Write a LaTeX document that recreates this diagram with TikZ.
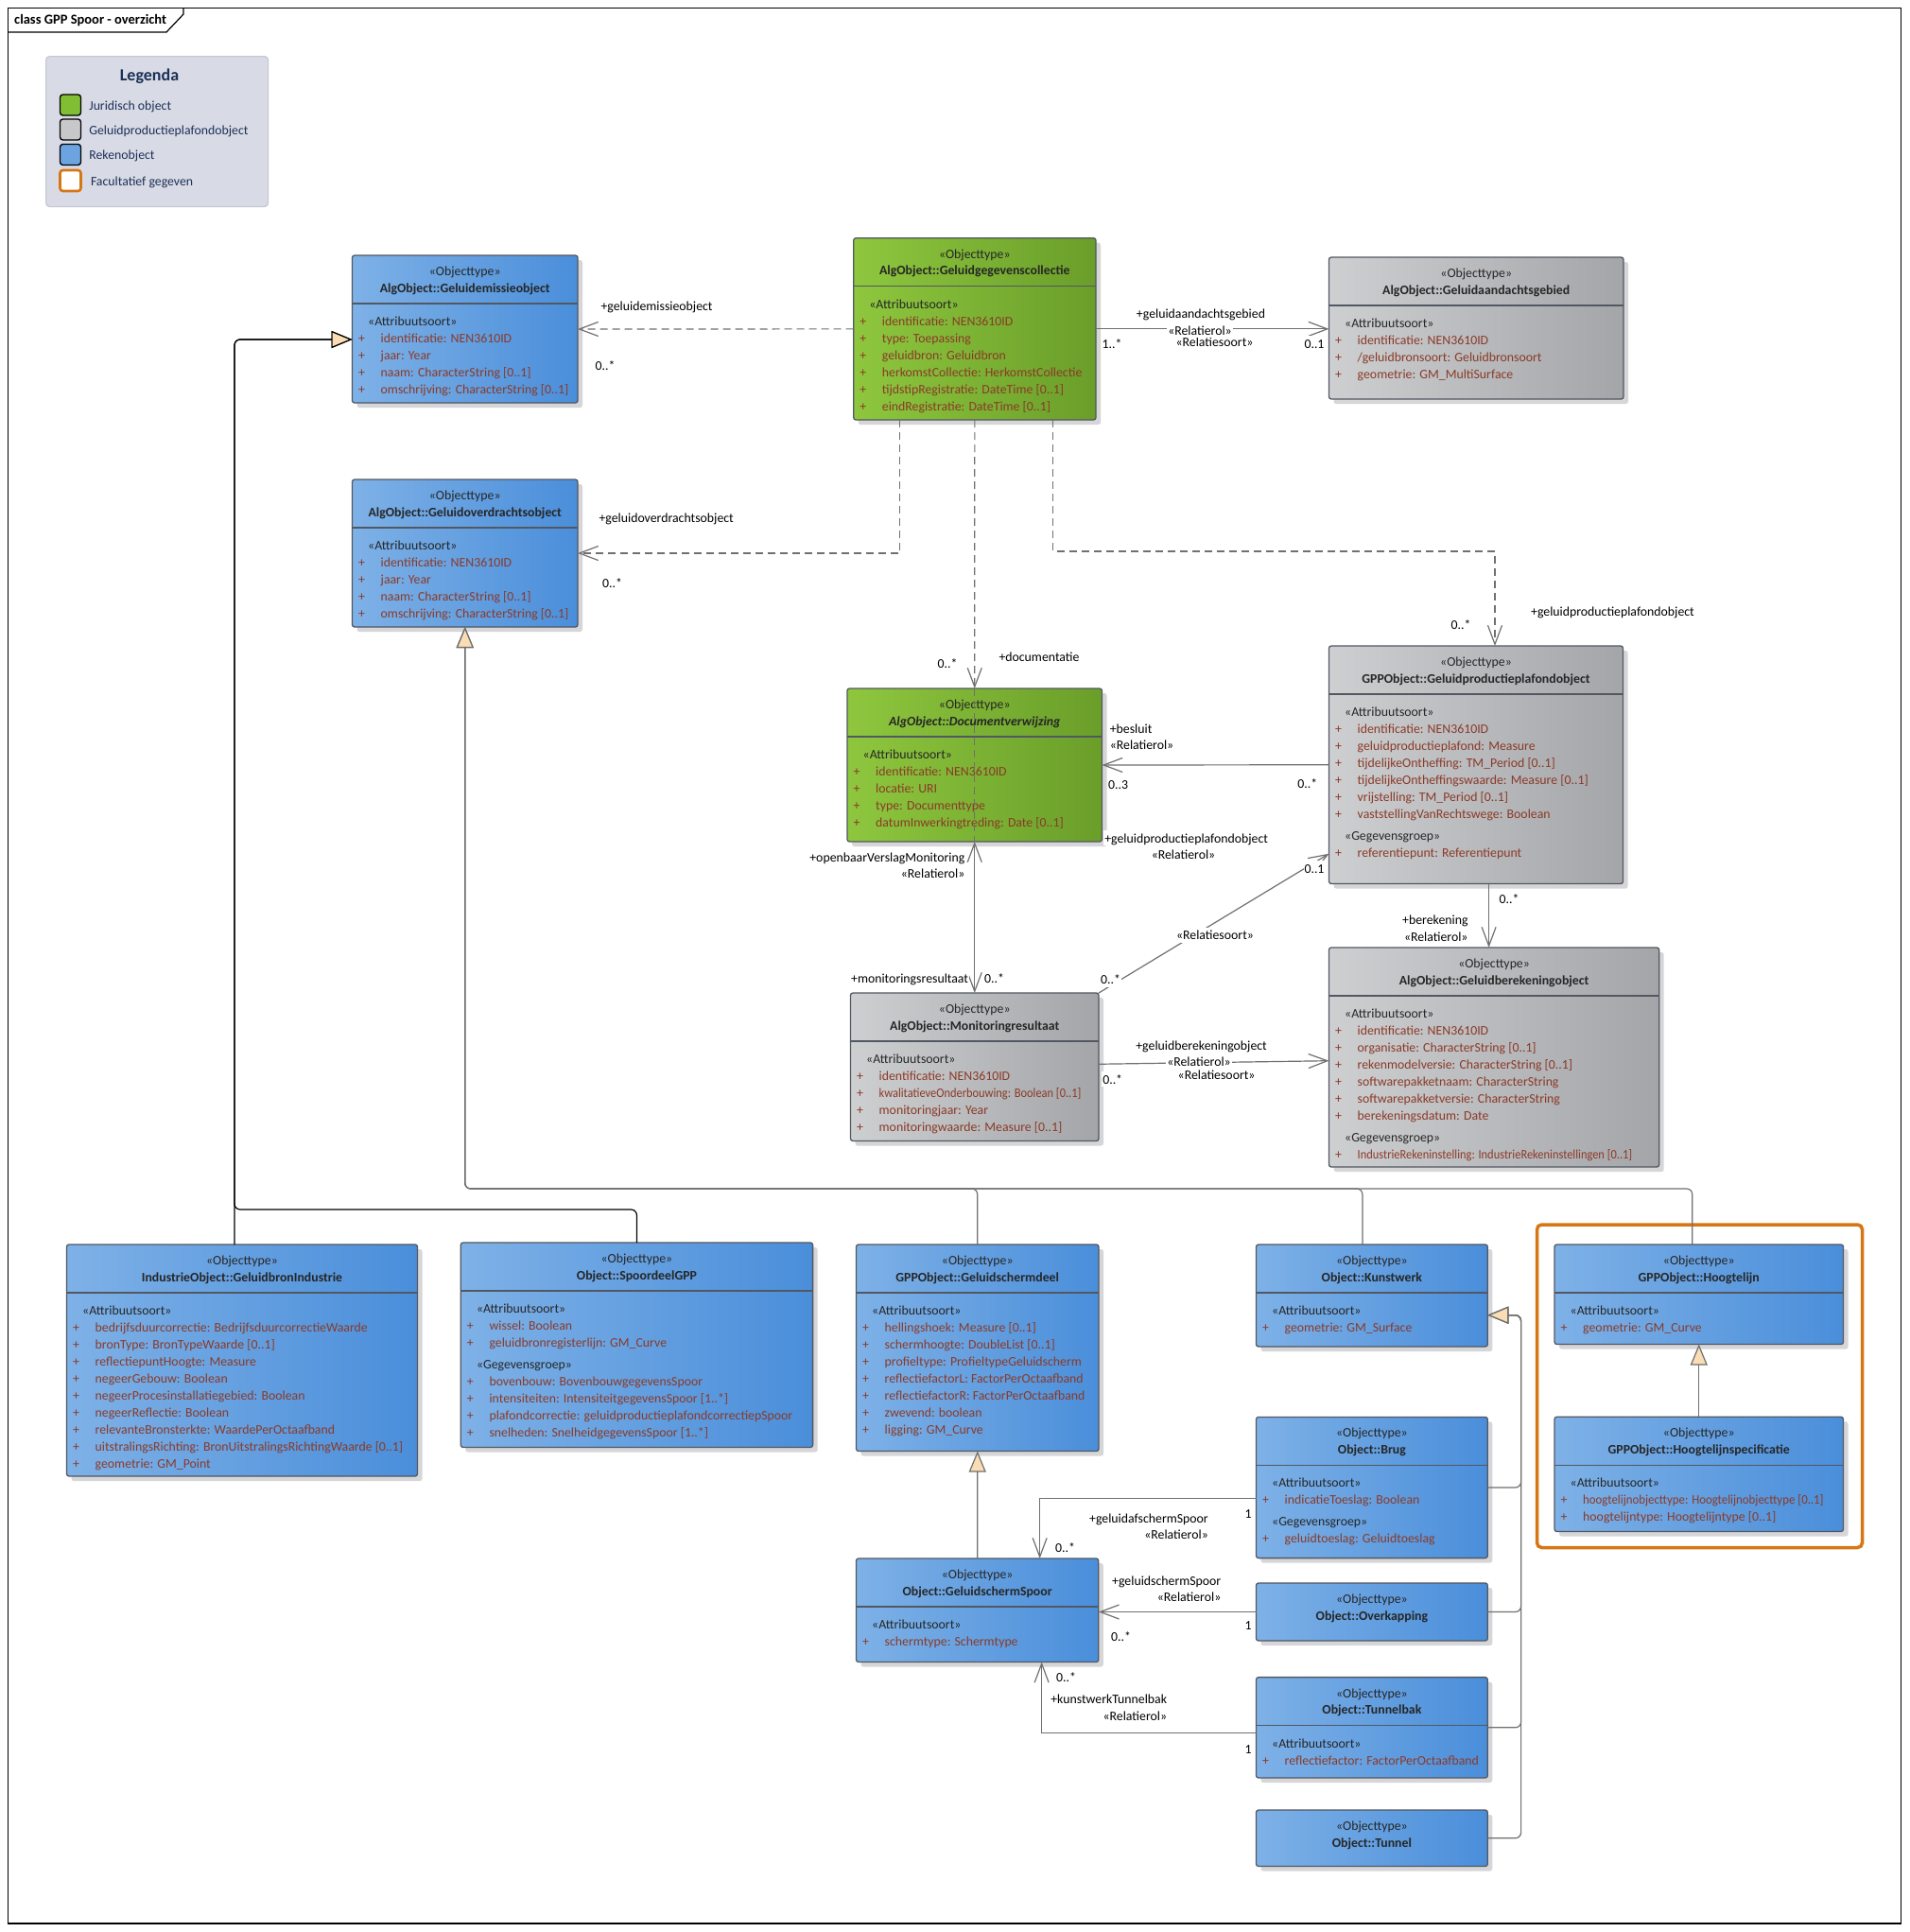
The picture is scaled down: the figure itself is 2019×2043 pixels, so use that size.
\documentclass[tikz,border=0pt]{standalone}
\usepackage{fontspec}
\usepackage{graphicx}
\setmainfont{Carlito}
\usetikzlibrary{arrows.meta,positioning,calc}

\definecolor{blueL}{RGB}{126,177,231}
\definecolor{blueR}{RGB}{74,142,218}
\definecolor{greenL}{RGB}{142,199,62}
\definecolor{greenR}{RGB}{106,158,42}
\definecolor{grayL}{RGB}{206,207,209}
\definecolor{grayR}{RGB}{164,165,168}
\definecolor{boxline}{RGB}{82,88,98}
\definecolor{boxshadow}{RGB}{214,214,216}
\definecolor{txt}{RGB}{38,38,38}
\definecolor{attrc}{RGB}{138,58,40}
\definecolor{conn}{RGB}{112,112,112}
\definecolor{genfill}{RGB}{250,221,180}
\definecolor{legfill}{RGB}{216,219,229}
\definecolor{legline}{RGB}{196,199,210}
\definecolor{navy}{RGB}{28,48,88}
\definecolor{optorange}{RGB}{214,118,20}
\definecolor{swgreen}{RGB}{128,190,52}
\definecolor{swgray}{RGB}{200,200,202}
\definecolor{swblue}{RGB}{108,164,226}

% class box: name, style, x, y, width, height, title
\newcommand{\umlclass}[7]{%
  \fill[boxshadow,rounded corners=2.5pt] (#3+5,#4+5) rectangle ++(#5,#6);
  \node[#2,minimum width=#5pt,minimum height=#6pt] (#1) at (#3,#4) {};
  \node[stereo] (#1-st) at ($(#1.north)+(0,16.5)$) {«Objecttype»};
  \node[clsname] (#1-nm) at ($(#1.north)+(0,34)$) {#7};
}
% attribute compartment
\newcommand{\umlattrs}[2]{%
  \draw[divider] ($(#1.north west)+(0,51)$) -- ($(#1.north east)+(0,51)$);
  \node[stereo,anchor=west] (#1-at) at ($(#1.north west)+(16.5,69.5)$) {«Attribuutsoort»};
  \foreach \atxt [count=\i] in {#2} {
    \node[plus] (#1-p\i) at ($(#1.north west)+(10,69.5+18*\i)$) {+};
    \node[attr] (#1-a\i) at ($(#1.north west)+(30,69.5+18*\i)$) {\atxt};
  }%
}
% data group compartment
\newcommand{\umlgroup}[3]{%
  \node[stereo,anchor=west] (#1-gg) at ($(#1.north west)+(16.5,#2)$) {«Gegevensgroep»};
  \foreach \atxt [count=\i] in {#3} {
    \node[plus] (#1-q\i) at ($(#1.north west)+(10,#2+18*\i)$) {+};
    \node[attr] (#1-g\i) at ($(#1.north west)+(30,#2+18*\i)$) {\atxt};
  }%
}

\begin{document}
\begin{tikzpicture}[x=1pt,y=-1pt,
  font=\fontsize{13.8}{18}\selectfont,
  txtbox/.style={inner sep=0pt,text height=12pt,text depth=2pt},
  stereo/.style={txtbox,text=txt},
  clsname/.style={txtbox,text=txt,font=\fontsize{13.8}{18}\selectfont\bfseries},
  attr/.style={txtbox,anchor=west,text=attrc},
  plus/.style={txtbox,text=attrc},
  cls/.style={draw=boxline,line width=1.3pt,rounded corners=2.5pt,anchor=north west,inner sep=0pt,outer sep=0pt},
  bluecls/.style={cls,left color=blueL,right color=blueR},
  greencls/.style={cls,left color=greenL,right color=greenR},
  graycls/.style={cls,left color=grayL,right color=grayR},
  divider/.style={draw=boxline,line width=1.3pt},
  assoc/.style={draw=conn,line width=1.2pt,-{Straight Barb[length=20pt,width=15pt]}},
  assoc2/.style={assoc,{Straight Barb[length=20pt,width=15pt]}-{Straight Barb[length=20pt,width=15pt]}},
  dep/.style={assoc,dash pattern=on 8pt off 5pt},
  gen/.style={draw=conn,line width=1.2pt,rounded corners=6pt,-{Triangle[length=22pt,width=18pt,fill=genfill]}},
  lbl/.style={txtbox,inner sep=1pt,fill=white,text=black},
  swatch/.style={draw=black,line width=1.3pt,rounded corners=3pt,minimum size=22pt,inner sep=0pt},
  legtxt/.style={txtbox,text=navy},
  ]
  \useasboundingbox (0,0) rectangle (2019,2043);
  \fill[white] (0,0) rectangle (2019,2043);

  % frame and title tab
  \draw[line width=1.5pt] (8.5,8.5) rectangle (2010.5,2034);
  \draw[line width=1.2pt] (8.5,34) -- (176,34) -- (194,15) -- (194,8.5);
  \node[anchor=west,inner sep=0pt,font=\fontsize{14.5}{16}\selectfont\bfseries] (title) at (15,21.5) {class GPP Spoor - overzicht};

  % legend
  \node[draw=legline,fill=legfill,rounded corners=4pt,line width=1.2pt,anchor=north west,minimum width=235pt,minimum height=159pt,inner sep=0pt] (legend) at (48,59) {};
  \node[inner sep=0pt,text=navy,font=\fontsize{18}{20}\selectfont\bfseries] (legend-title) at (158,81) {Legenda};
  \foreach \c/\y/\lab [count=\i] in {swgreen/111/Juridisch object, swgray/137/Geluidproductieplafondobject, swblue/163.5/Rekenobject} {
    \node[swatch,fill=\c] (sw\i) at (74.5,\y) {};
    \node[legtxt,right=8pt of sw\i] (lg\i) {\lab};
  }
  \node[swatch,fill=white,draw=optorange,line width=2.6pt] (sw4) at (74.5,191) {};
  \node[legtxt,right=9pt of sw4] (lg4) {Facultatief gegeven};

  % optional group
  \draw[optorange,line width=3.5pt,rounded corners=5pt] (1625.5,1295) rectangle (1969.5,1636.5);

  % classes
  \umlclass{emissie}{bluecls}{372.5}{270}{238.5}{156}{AlgObject::Geluidemissieobject}
  \umlattrs{emissie}{identificatie: NEN3610ID, jaar: Year, naam: CharacterString [0..1], omschrijving: CharacterString [0..1]}
  \umlclass{overdracht}{bluecls}{372.5}{507}{238.5}{156}{AlgObject::Geluidoverdrachtsobject}
  \umlattrs{overdracht}{identificatie: NEN3610ID, jaar: Year, naam: CharacterString [0..1], omschrijving: CharacterString [0..1]}
  \umlclass{collectie}{greencls}{902.7}{251.7}{256.3}{192.3}{AlgObject::Geluidgegevenscollectie}
  \umlattrs{collectie}{identificatie: NEN3610ID, type: Toepassing, geluidbron: Geluidbron, herkomstCollectie: HerkomstCollectie, tijdstipRegistratie: DateTime [0..1], eindRegistratie: DateTime [0..1]}
  \umlclass{aandacht}{graycls}{1405.5}{272}{311.5}{150}{AlgObject::Geluidaandachtsgebied}
  \umlattrs{aandacht}{identificatie: NEN3610ID, /geluidbronsoort: Geluidbronsoort, geometrie: GM\_MultiSurface}
  \umlclass{gpp}{graycls}{1405.5}{683}{311}{251.5}{GPPObject::Geluidproductieplafondobject}
  \umlattrs{gpp}{identificatie: NEN3610ID, geluidproductieplafond: Measure, tijdelijkeOntheffing: TM\_Period [0..1], tijdelijkeOntheffingswaarde: Measure [0..1], vrijstelling: TM\_Period [0..1], vaststellingVanRechtswege: Boolean}
  \umlgroup{gpp}{200.5}{referentiepunt: Referentiepunt}
  \umlclass{docverw}{greencls}{896}{728}{269.5}{162}{\itshape AlgObject::Documentverwijzing}
  \umlattrs{docverw}{identificatie: NEN3610ID, locatie: URI, type: Documenttype, datumInwerkingtreding: Date [0..1]}
  \umlclass{monitoring}{graycls}{899.5}{1050}{262.5}{156.5}{AlgObject::Monitoringresultaat}
  \umlattrs{monitoring}{identificatie: NEN3610ID, {\scalebox{0.9}[1]{kwalitatieveOnderbouwing: Boolean [0..1]}}, monitoringjaar: Year, monitoringwaarde: Measure [0..1]}
  \umlclass{berekening}{graycls}{1405.5}{1002}{349.2}{232}{AlgObject::Geluidberekeningobject}
  \umlattrs{berekening}{identificatie: NEN3610ID, organisatie: CharacterString [0..1], rekenmodelversie: CharacterString [0..1], softwarepakketnaam: CharacterString, softwarepakketversie: CharacterString, berekeningsdatum: Date}
  \umlgroup{berekening}{200.5}{{\scalebox{0.9}[1]{IndustrieRekeninstelling: IndustrieRekeninstellingen [0..1]}}}
  \umlclass{industrie}{bluecls}{70.5}{1316}{371}{245}{IndustrieObject::GeluidbronIndustrie}
  \umlattrs{industrie}{bedrijfsduurcorrectie: BedrijfsduurcorrectieWaarde, bronType: BronTypeWaarde [0..1], reflectiepuntHoogte: Measure, negeerGebouw: Boolean, negeerProcesinstallatiegebied: Boolean, negeerReflectie: Boolean, relevanteBronsterkte: WaardePerOctaafband, uitstralingsRichting: BronUitstralingsRichtingWaarde [0..1], geometrie: GM\_Point}
  \umlclass{spoordeel}{bluecls}{487.3}{1314}{372.3}{216.5}{Object::SpoordeelGPP}
  \umlattrs{spoordeel}{wissel: Boolean, geluidbronregisterlijn: GM\_Curve}
  \umlgroup{spoordeel}{128.5}{bovenbouw: BovenbouwgegevensSpoor, intensiteiten: IntensiteitgegevensSpoor [1..*], plafondcorrectie: geluidproductieplafondcorrectiepSpoor, snelheden: SnelheidgegevensSpoor [1..*]}
  \umlclass{schermdeel}{bluecls}{905.5}{1316}{256.5}{218.5}{GPPObject::Geluidschermdeel}
  \umlattrs{schermdeel}{hellingshoek: Measure [0..1], schermhoogte: DoubleList [0..1], profieltype: ProfieltypeGeluidscherm, reflectiefactorL: FactorPerOctaafband, reflectiefactorR: FactorPerOctaafband, zwevend: boolean, ligging: GM\_Curve}
  \umlclass{kunstwerk}{bluecls}{1328.5}{1316}{244.8}{108}{Object::Kunstwerk}
  \umlattrs{kunstwerk}{geometrie: GM\_Surface}
  \umlclass{hoogtelijn}{bluecls}{1644}{1316}{305.5}{105.5}{GPPObject::Hoogtelijn}
  \umlattrs{hoogtelijn}{geometrie: GM\_Curve}
  \umlclass{hlspec}{bluecls}{1644}{1498.3}{305.5}{121.2}{GPPObject::Hoogtelijnspecificatie}
  \umlattrs{hlspec}{{\scalebox{0.93}[1]{hoogtelijnobjecttype: Hoogtelijnobjecttype [0..1]}}, hoogtelijntype: Hoogtelijntype [0..1]}
  \umlclass{brug}{bluecls}{1328.5}{1498.4}{244.8}{149.2}{Object::Brug}
  \umlattrs{brug}{indicatieToeslag: Boolean}
  \umlgroup{brug}{110.5}{geluidtoeslag: Geluidtoeslag}
  \umlclass{schermspoor}{bluecls}{905.5}{1648}{256.3}{109.5}{Object::GeluidschermSpoor}
  \umlattrs{schermspoor}{schermtype: Schermtype}
  \umlclass{overkapping}{bluecls}{1328.5}{1674}{244.8}{61}{Object::Overkapping}
  \umlclass{tunnelbak}{bluecls}{1328.5}{1773.6}{244.8}{106.4}{Object::Tunnelbak}
  \umlattrs{tunnelbak}{reflectiefactor: FactorPerOctaafband}
  \umlclass{tunnel}{bluecls}{1328.5}{1914}{244.8}{59.5}{Object::Tunnel}

  % dependencies from the collection
  \draw[dep] (collectie.west) -- (emissie.east);
  \coordinate (col-b) at ([xshift=-79pt]collectie.south);
  \draw[dep] (col-b) -- (col-b |- overdracht.east) -- (overdracht.east);
  \draw[dep] (collectie.south) -- (docverw.north);
  \draw[dep,-] (docverw.north) -- (docverw.south);
  \coordinate (col-e) at ([xshift=83pt]collectie.south);
  \coordinate (gpp-top) at ([xshift=20pt]gpp.north);
  \coordinate (depbus) at (0,583);
  \draw[dep] (col-e) -- (col-e |- depbus) -- (gpp-top |- depbus) -- (gpp-top);

  % associations
  \draw[assoc] (collectie.east) -- (collectie.east -| aandacht.west);
  \draw[assoc] (gpp.west) -- (docverw.east);
  \draw[assoc2] (docverw.south) -- (monitoring.north);
  \coordinate (gpp-in) at ([yshift=-94pt]gpp.west);
  \draw[assoc] (monitoring.north east) -- (gpp-in);
  \coordinate (gpp-bot) at ([xshift=13.6pt]gpp.south);
  \draw[assoc] (gpp-bot) -- (gpp-bot |- berekening.north);
  \draw[assoc] ([yshift=3pt]monitoring.east) -- ([yshift=-3.7pt]berekening.west);
  \coordinate (sp-top) at ([xshift=66pt]schermspoor.north);
  \coordinate (sp-bot) at ([xshift=68pt]schermspoor.south);
  \coordinate (brug-out) at ([yshift=-11.5pt]brug.west);
  \coordinate (tb-out) at ([yshift=-6pt]tunnelbak.west);
  \draw[assoc] (brug-out) -- (brug-out -| sp-top) -- (sp-top);
  \draw[assoc] (overkapping.west) -- (overkapping.west -| schermspoor.east);
  \draw[assoc] (tb-out) -- (tb-out -| sp-bot) -- (sp-bot);

  % generalizations
  \coordinate (ind-top) at ([xshift=-8pt]industrie.north);
  \coordinate (emis-in) at ([yshift=-11pt]emissie.west);
  \coordinate (spbus) at (0,1279);
  \draw[gen,draw=black] (ind-top) -- (ind-top |- emis-in) -- (emis-in);
  \draw[gen,draw=black] (spoordeel.north) -- (spoordeel.north |- spbus) -- (ind-top |- spbus) -- (ind-top |- emis-in) -- (emis-in);
  \coordinate (genbus) at (0,1257);
  \coordinate (kw-top) at ([xshift=-10pt]kunstwerk.north);
  \coordinate (hl-top) at ([xshift=-7pt]hoogtelijn.north);
  \foreach \src in {schermdeel.north, kw-top, hl-top}
    \draw[gen] (\src) -- (\src |- genbus) -- (overdracht.south |- genbus) -- (overdracht.south);
  \coordinate (kwbus) at (1608.6,0);
  \coordinate (kw-in) at ([yshift=-20.7pt]kunstwerk.east);
  \foreach \src in {brug, overkapping, tunnelbak, tunnel}
    \draw[gen] (\src.east) -- (\src.east -| kwbus) -- (kw-in -| kwbus) -- (kw-in);
  \draw[gen] (schermspoor.north) -- (schermdeel.south);
  \draw[gen] (hlspec.north) -- (hoogtelijn.south);

  % connector labels
  \node[lbl] (l-emis-role) at (694.6,323.3) {+geluidemissieobject};
  \node[lbl] (l-emis-mult) at (640,386.7) {0..*};
  \node[lbl] (l-ovd-role) at (704.7,547.3) {+geluidoverdrachtsobject};
  \node[lbl] (l-ovd-mult) at (647.6,616) {0..*};
  \node[lbl] (l-aand-role) at (1270,331.7) {+geluidaandachtsgebied};
  \node[lbl] (l-aand-soort) at (1284.5,361) {«Relatiesoort»};
  \node[lbl] (l-aand-rol) at (1269,349) {«Relatierol»};
  \node[lbl] (l-aand-src) at (1176,363) {1..*};
  \node[lbl] (l-aand-mult) at (1390,363) {0..1};
  \node[lbl] (l-doc-mult) at (1002,701) {0..*};
  \node[lbl] (l-doc-role) at (1099,694) {+documentatie};
  \node[lbl] (l-gpp-mult) at (1545,660) {0..*};
  \node[lbl] (l-gpp-role) at (1705.5,646) {+geluidproductieplafondobject};
  \node[lbl,anchor=west] (l-bes-role) at (1172.6,770) {+besluit};
  \node[lbl,anchor=west] (l-bes-rol) at (1172.6,787.6) {«Relatierol»};
  \node[lbl,anchor=west] (l-bes-mult) at (1171,829.4) {0..3};
  \node[lbl,anchor=east] (l-bes-src) at (1394.5,828) {0..*};
  \node[lbl] (l-mon-role) at (1254.7,886.4) {+geluidproductieplafondobject};
  \node[lbl] (l-mon-rol) at (1251.5,903.4) {«Relatierol»};
  \node[lbl] (l-mon-mult) at (1390,918) {0..1};
  \node[lbl] (l-mon-soort) at (1285,988.5) {«Relatiesoort»};
  \node[lbl] (l-mon-src) at (1174.6,1035.5) {0..*};
  \node[lbl] (l-ber-mult) at (1596,950.4) {0..*};
  \node[lbl,anchor=east] (l-ber-role) at (1553.7,972.6) {+berekening};
  \node[lbl,anchor=east] (l-ber-rol) at (1553.7,990.4) {«Relatierol»};
  \node[lbl,anchor=east] (l-ovm-role) at (1021.6,906.4) {+openbaarVerslagMonitoring};
  \node[lbl,anchor=east] (l-ovm-rol) at (1021.6,923.6) {«Relatierol»};
  \node[lbl,anchor=east] (l-mr-role) at (1025.3,1034) {+monitoringsresultaat};
  \node[lbl] (l-mr-mult) at (1051.5,1034) {0..*};
  \node[lbl] (l-gbo-role) at (1270.6,1105.8) {+geluidberekeningobject};
  \node[lbl] (l-gbo-soort) at (1286.6,1136) {«Relatiesoort»};
  \node[lbl] (l-gbo-rol) at (1268,1122.4) {«Relatierol»};
  \node[lbl] (l-gbo-mult) at (1176.7,1141) {0..*};
  \node[lbl] (l-brug-one) at (1320,1600) {1};
  \node[lbl,anchor=east] (l-brug-role) at (1279,1605) {+geluidafschermSpoor};
  \node[lbl,anchor=east] (l-brug-rol) at (1279,1622.7) {«Relatierol»};
  \node[lbl] (l-brug-mult) at (1126.6,1636.5) {0..*};
  \node[lbl,anchor=east] (l-ovk-role) at (1292.5,1671) {+geluidschermSpoor};
  \node[lbl,anchor=east] (l-ovk-rol) at (1292.5,1688.5) {«Relatierol»};
  \node[lbl] (l-ovk-mult) at (1185.6,1730.4) {0..*};
  \node[lbl] (l-ovk-one) at (1320,1718.7) {1};
  \node[lbl,anchor=east] (l-tb-role) at (1235.3,1796.5) {+kunstwerkTunnelbak};
  \node[lbl,anchor=east] (l-tb-rol) at (1235.3,1814.7) {«Relatierol»};
  \node[lbl] (l-tb-mult) at (1127.5,1773) {0..*};
  \node[lbl] (l-tb-one) at (1320,1849) {1};
\end{tikzpicture}
\end{document}
